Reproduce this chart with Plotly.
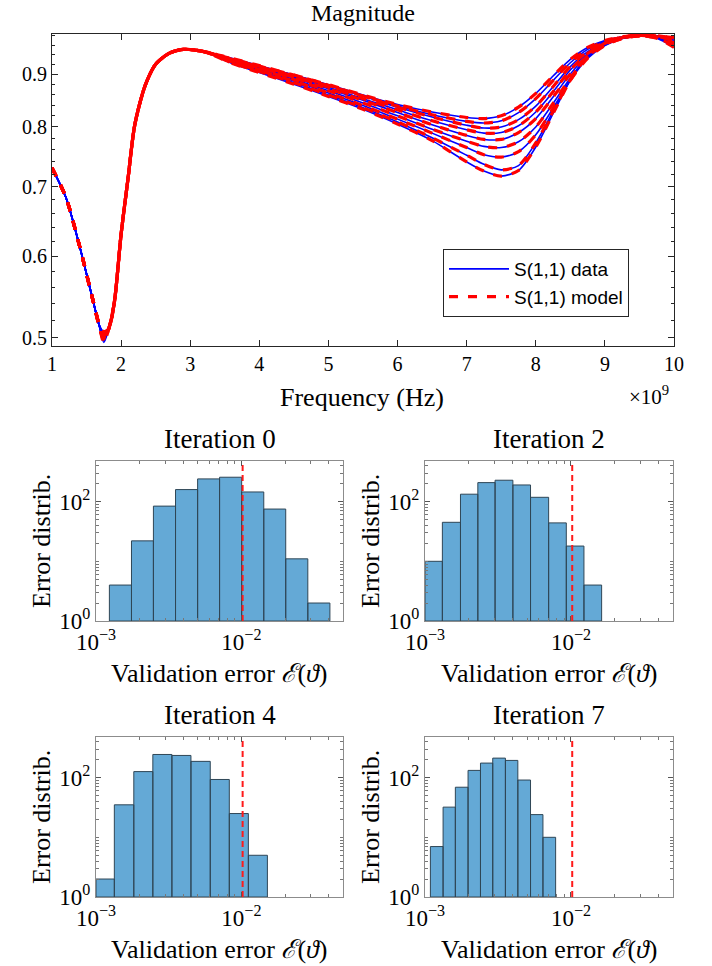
import plotly.graph_objects as go

# ---------------- Top plot data (frequency in GHz, axis labelled x10^9 Hz) ----------------
freq_low = [1.0, 1.2, 1.4, 1.6, 1.68, 1.75, 1.82, 1.9, 2.0, 2.1, 2.2, 2.35, 2.5, 2.7, 2.9, 3.2]
mag_low = [0.730, 0.684, 0.613, 0.541, 0.515, None, 0.510, 0.540, 0.630, 0.713, 0.805, 0.878, 0.920, 0.943, 0.951, 0.946]
dip_values = [0.498, 0.502, 0.495, 0.505, 0.500, 0.497, 0.503, 0.499, 0.507]

freq_high = [3.6, 4.0, 4.5, 5.0, 5.5, 6.0, 6.5, 7.0, 7.25, 7.5, 7.75, 8.0, 8.25, 8.5, 8.75, 9.0, 9.25, 9.5, 9.75, 10.0]
curve_1 = [0.931, 0.916, 0.898, 0.879, 0.859, 0.841, 0.827, 0.817, 0.815, 0.820, 0.836, 0.862, 0.896, 0.930, 0.955, 0.970, 0.978, 0.981, 0.978, 0.973]
curve_2 = [0.930, 0.915, 0.896, 0.877, 0.857, 0.838, 0.822, 0.810, 0.807, 0.811, 0.826, 0.852, 0.887, 0.923, 0.951, 0.968, 0.977, 0.981, 0.979, 0.974]
curve_3 = [0.932, 0.917, 0.898, 0.878, 0.857, 0.836, 0.818, 0.803, 0.798, 0.800, 0.813, 0.838, 0.875, 0.915, 0.946, 0.966, 0.977, 0.981, 0.980, 0.976]
curve_4 = [0.929, 0.913, 0.894, 0.874, 0.852, 0.831, 0.811, 0.795, 0.789, 0.790, 0.802, 0.827, 0.865, 0.908, 0.942, 0.964, 0.976, 0.981, 0.980, 0.975]
curve_5 = [0.928, 0.912, 0.892, 0.871, 0.849, 0.826, 0.804, 0.785, 0.778, 0.778, 0.790, 0.815, 0.855, 0.900, 0.938, 0.962, 0.975, 0.981, 0.979, 0.970]
curve_6 = [0.926, 0.909, 0.889, 0.867, 0.844, 0.820, 0.796, 0.775, 0.766, 0.764, 0.774, 0.800, 0.843, 0.892, 0.934, 0.960, 0.974, 0.980, 0.978, 0.965]
curve_7 = [0.925, 0.907, 0.886, 0.863, 0.839, 0.814, 0.789, 0.764, 0.752, 0.748, 0.757, 0.786, 0.834, 0.888, 0.932, 0.959, 0.974, 0.980, 0.977, 0.962]
curve_8 = [0.923, 0.905, 0.883, 0.859, 0.835, 0.809, 0.781, 0.751, 0.736, 0.727, 0.734, 0.772, 0.828, 0.888, 0.936, 0.962, 0.976, 0.980, 0.976, 0.958]
curve_9 = [0.922, 0.903, 0.880, 0.856, 0.832, 0.805, 0.776, 0.740, 0.725, 0.717, 0.726, 0.765, 0.824, 0.888, 0.938, 0.964, 0.977, 0.980, 0.975, 0.955]
high_curves = [curve_1, curve_2, curve_3, curve_4, curve_5, curve_6, curve_7, curve_8, curve_9]

freq_ticks = [1, 2, 3, 4, 5, 6, 7, 8, 9, 10]
mag_ticks = [0.5, 0.6, 0.7, 0.8, 0.9]
mag_minor = [0.52, 0.54, 0.56, 0.58, 0.62, 0.64, 0.66, 0.68, 0.72, 0.74, 0.76, 0.78,
             0.82, 0.84, 0.86, 0.88, 0.92, 0.94, 0.96, 0.98]

# ---------------- Histogram data ----------------
hist_titles = ["Iteration 0", "Iteration 2", "Iteration 4", "Iteration 7"]
edges_it0 = [0.001236, 0.001754, 0.002483, 0.003524, 0.005000, 0.007079, 0.010046, 0.014256, 0.020184, 0.028642, 0.040644]
counts_it0 = [4, 22, 84, 159, 240, 256, 145, 75, 11, 2]
edges_it2 = [0.001000, 0.001315, 0.001750, 0.002301, 0.003020, 0.004000, 0.005284, 0.007031, 0.009290, 0.01227, 0.01622]
counts_it2 = [10, 45, 133, 208, 228, 190, 118, 44, 18, 4]
edges_it4 = [0.001000, 0.001337, 0.001820, 0.002460, 0.003327, 0.004498, 0.006109, 0.008260, 0.01117, 0.01510]
counts_it4 = [2, 35, 126, 244, 235, 187, 93, 25, 5]
edges_it7 = [0.001089, 0.001330, 0.001614, 0.001972, 0.002399, 0.002911, 0.003556, 0.004325, 0.005284, 0.006427, 0.007852]
counts_it7 = [7, 32, 69, 132, 175, 212, 194, 91, 24, 10]
threshold = 0.0102

err_ticks = [0.001, 0.01]
err_ticktext = ["10<sup>−3</sup>", "10<sup>−2</sup>"]
err_minor = [0.002, 0.003, 0.004, 0.005, 0.006, 0.007, 0.008, 0.009, 0.02, 0.03, 0.04, 0.05]
cnt_ticks = [1, 100]
cnt_ticktext = ["10<sup>0</sup>", "10<sup>2</sup>"]
cnt_minor = [2, 3, 4, 5, 6, 7, 8, 9, 10, 20, 30, 40, 50, 60, 70, 80, 90, 200, 300, 400]

# ---------------- Figure ----------------
W, H = 712, 966
SERIF = "Liberation Serif, DejaVu Serif, serif"
SANS = "Liberation Sans, Arial, sans-serif"


def px(x):
    return x / W


def py(y):
    return 1 - y / H


fig = go.Figure()

freq_all = freq_low + freq_high
for i, hc in enumerate(high_curves):
    low = [dip_values[i] if v is None else v for v in mag_low]
    vals = low + hc
    fig.add_trace(go.Scatter(x=freq_all, y=vals, mode="lines", line=dict(color="#0000ff", width=1.6, shape="spline", smoothing=0.8),
                             name="S(1,1) data", legendgroup="data", showlegend=(i == 0), xaxis="x", yaxis="y"))
for i, hc in enumerate(high_curves):
    low = [dip_values[i] if v is None else v for v in mag_low]
    vals = low + hc
    fig.add_trace(go.Scatter(x=freq_all, y=vals, mode="lines", line=dict(color="#ff0000", width=3.2, dash="9px,10px", shape="spline", smoothing=0.8),
                             name="S(1,1) model", legendgroup="model", showlegend=(i == 0), xaxis="x", yaxis="y"))

hist_sets = [(edges_it0, counts_it0), (edges_it2, counts_it2), (edges_it4, counts_it4), (edges_it7, counts_it7)]
for k, (edges, counts) in enumerate(hist_sets):
    xs, ys = [], []
    for j, c in enumerate(counts):
        e0, e1 = edges[j], edges[j + 1]
        xs += [e0, e0, e1, e1, e0, None]
        ys += [1, c, c, 1, 1, None]
    ax = str(k + 2)
    fig.add_trace(go.Scatter(x=xs, y=ys, mode="lines", fill="toself", fillcolor="#64a9d6",
                             line=dict(color="#2f4656", width=1), showlegend=False,
                             xaxis="x" + ax, yaxis="y" + ax, hoverinfo="skip"))
    fig.add_trace(go.Scatter(x=[threshold, threshold], y=[1, 10 ** 2.68], mode="lines",
                             line=dict(color="#ff1a1a", width=2, dash="6px,4px"), showlegend=False,
                             xaxis="x" + ax, yaxis="y" + ax))

layout = dict(
    width=W, height=H, margin=dict(l=0, r=0, t=0, b=0, autoexpand=False),
    paper_bgcolor="white", plot_bgcolor="white",
    font=dict(family=SERIF, color="black"),
    legend=dict(x=px(443), y=py(249), xanchor="left", yanchor="top",
                bgcolor="white", bordercolor="#262626", borderwidth=1,
                font=dict(family=SANS, size=19, color="black"), tracegroupgap=0,
                itemwidth=60),
    xaxis=dict(domain=[px(52), px(674)], range=[1, 10], tickvals=freq_ticks, automargin=False,
               ticks="inside", ticklen=6, tickcolor="#262626", showline=True, linecolor="#262626",
               mirror="ticks", showgrid=False, zeroline=False, tickfont=dict(size=20), anchor="y"),
    yaxis=dict(domain=[py(346), py(34)], type="log", range=[-0.3089, -0.0070], automargin=False,
               tickvals=mag_ticks, ticktext=[str(v) for v in mag_ticks],
               ticks="inside", ticklen=6, tickcolor="#262626", showline=True, linecolor="#262626",
               mirror="ticks", showgrid=False, zeroline=False, tickfont=dict(size=20), anchor="x",
               minor=dict(tickvals=mag_minor, ticks="inside", ticklen=3, tickcolor="#262626", showgrid=False)),
)

col_x = [(96, 343), (425, 673)]
row_y = [(461, 621), (737, 897)]
for k in range(4):
    c, r = k % 2, k // 2
    ax = str(k + 2)
    layout["xaxis" + ax] = dict(domain=[px(col_x[c][0]), px(col_x[c][1])], type="log", range=[-3, -1.301],
                                 tickvals=err_ticks, ticktext=err_ticktext, ticks="inside", ticklen=5, automargin=False,
                                 tickcolor="#555555", showline=True, linecolor="#8c8c8c", mirror="ticks",
                                 showgrid=False, zeroline=False, tickfont=dict(size=23), anchor="y" + ax,
                                 minor=dict(tickvals=err_minor, ticks="inside", ticklen=3, tickcolor="#777777", showgrid=False))
    layout["yaxis" + ax] = dict(domain=[py(row_y[r][1]), py(row_y[r][0])], type="log", range=[0, 2.68],
                                 tickvals=cnt_ticks, ticktext=cnt_ticktext, ticks="inside", ticklen=5, automargin=False,
                                 tickcolor="#555555", showline=True, linecolor="#8c8c8c", mirror="ticks",
                                 showgrid=False, zeroline=False, tickfont=dict(size=23), anchor="x" + ax,
                                 minor=dict(tickvals=cnt_minor, ticks="inside", ticklen=3, tickcolor="#777777", showgrid=False))

annotations = [
    dict(text="Magnitude", x=px(363), y=py(13), font=dict(size=24)),
    dict(text="Frequency (Hz)", x=px(362), y=py(397), font=dict(size=26)),
    dict(text="×10<sup>9</sup>", x=px(649), y=py(395), font=dict(size=21)),
]
for k in range(4):
    c, r = k % 2, k // 2
    cx = (col_x[c][0] + col_x[c][1]) / 2
    cy = (row_y[r][0] + row_y[r][1]) / 2
    annotations.append(dict(text=hist_titles[k], x=px(cx), y=py(row_y[r][0] - 22), font=dict(size=27)))
    annotations.append(dict(text="Validation error <i>ℰ</i>(<i>ϑ</i>)", x=px(cx), y=py(row_y[r][1] + 52), font=dict(size=26)))
    annotations.append(dict(text="Error distrib.", x=px(col_x[c][0] - 55), y=py(cy), textangle=-90, font=dict(size=26)))
for a in annotations:
    a.update(xref="paper", yref="paper", showarrow=False, xanchor="center", yanchor="middle")
layout["annotations"] = annotations

fig.update_layout(**layout)
fig.write_html("out.html", config={"displayModeBar": False},
               post_script="document.body.style.margin='0';document.body.style.padding='0';document.body.style.overflow='hidden';")
